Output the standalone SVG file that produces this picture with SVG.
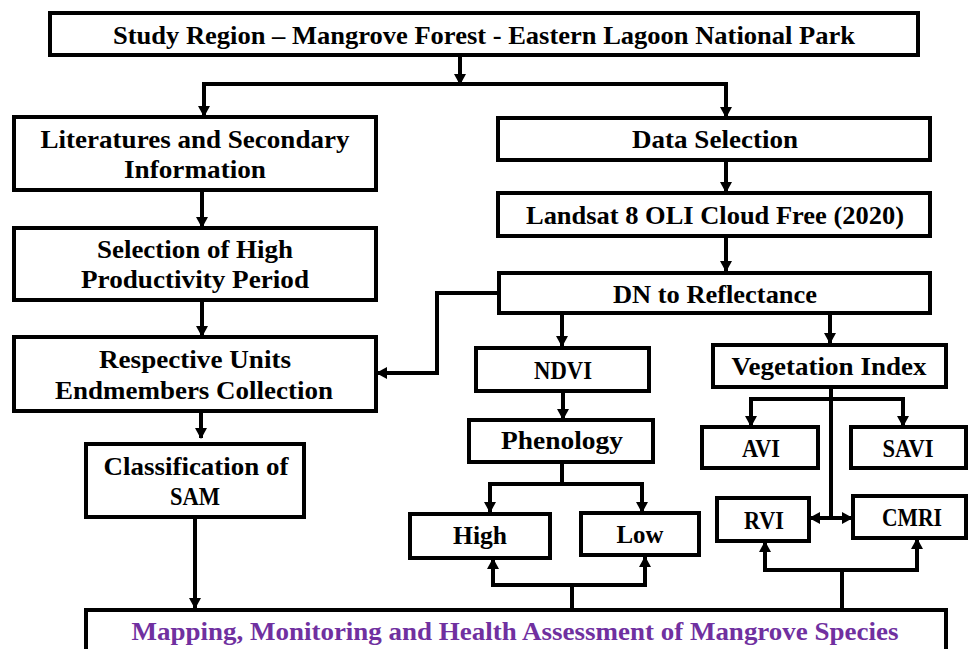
<svg xmlns="http://www.w3.org/2000/svg" width="968" height="649" viewBox="0 0 968 649">
<defs>
<style>
.box{fill:#fff;stroke:#000;stroke-width:4}
.t{font-family:"Liberation Serif","Times New Roman",serif;font-weight:bold;font-size:25px;fill:#000;text-anchor:middle}
.p{fill:#7030A0}
.c{fill:none;stroke:#000;stroke-width:4;stroke-linecap:butt;stroke-linejoin:miter}
.a{marker-end:url(#ah)}
.aa{marker-start:url(#ah);marker-end:url(#ah)}
</style>
<marker id="ah" markerUnits="userSpaceOnUse" markerWidth="12" markerHeight="12" viewBox="0 0 11 12" refX="10" refY="6" orient="auto-start-reverse">
<path d="M0,0 L11,6 L0,12 z" fill="#000"/>
</marker>
</defs>
<rect width="968" height="649" fill="#fff"/>

<g id="connectors">
<path class="c a" d="M460 55 V84"/>
<path class="c aa" d="M204 116 V84 H726 V117"/>
<path class="c a" d="M202 190 V227"/>
<path class="c a" d="M202 300 V336"/>
<path class="c a" d="M201 411 V438"/>
<path class="c a" d="M195 517 V608"/>
<path class="c a" d="M726 160 V192"/>
<path class="c a" d="M726 236 V271"/>
<path class="c a" d="M499 293 H437 V373 H377"/>
<path class="c a" d="M562 313 V346"/>
<path class="c a" d="M830 313 V343"/>
<path class="c a" d="M563 391 V419"/>
<path class="c" d="M562 462 V484"/>
<path class="c aa" d="M490 512 V484 H642 V512"/>
<path class="c" d="M572 609 V585"/>
<path class="c aa" d="M493 559 V585 H645 V557"/>
<path class="c aa" d="M751 426 V399 H903 V426"/>
<path class="c" d="M831 387 V518"/>
<path class="c aa" d="M810 518 H852"/>
<path class="c" d="M842 609 V570"/>
<path class="c aa" d="M765 542 V570 H917 V539"/>
</g>

<g id="study-region">
<rect class="box" x="50" y="13" width="868" height="42"/>
<text class="t" x="484" y="44" textLength="742" lengthAdjust="spacingAndGlyphs">Study Region – Mangrove Forest - Eastern Lagoon National Park</text>
</g>
<g id="literatures">
<rect class="box" x="14" y="117" width="362" height="73"/>
<text class="t" x="195" y="148" textLength="309" lengthAdjust="spacingAndGlyphs">Literatures and Secondary</text>
<text class="t" x="195" y="178" textLength="142" lengthAdjust="spacingAndGlyphs">Information</text>
</g>
<g id="selection-high">
<rect class="box" x="14" y="228" width="362" height="72"/>
<text class="t" x="195" y="258" textLength="196" lengthAdjust="spacingAndGlyphs">Selection of High</text>
<text class="t" x="195" y="288" textLength="228" lengthAdjust="spacingAndGlyphs">Productivity Period</text>
</g>
<g id="endmembers">
<rect class="box" x="14" y="337" width="362" height="74"/>
<text class="t" x="195" y="368" textLength="192" lengthAdjust="spacingAndGlyphs">Respective Units</text>
<text class="t" x="194" y="399" textLength="278" lengthAdjust="spacingAndGlyphs">Endmembers Collection</text>
</g>
<g id="classification">
<rect class="box" x="86" y="444" width="218" height="73"/>
<text class="t" x="196" y="475" textLength="185" lengthAdjust="spacingAndGlyphs">Classification of</text>
<text class="t" x="195" y="505" textLength="50" lengthAdjust="spacingAndGlyphs">SAM</text>
</g>
<g id="data-selection">
<rect class="box" x="498" y="118" width="432" height="42"/>
<text class="t" x="715" y="148" textLength="166" lengthAdjust="spacingAndGlyphs">Data Selection</text>
</g>
<g id="landsat">
<rect class="box" x="498" y="193" width="432" height="43"/>
<text class="t" x="715" y="224" textLength="378" lengthAdjust="spacingAndGlyphs">Landsat 8 OLI Cloud Free (2020)</text>
</g>
<g id="dn-reflectance">
<rect class="box" x="499" y="273" width="431" height="40"/>
<text class="t" x="715" y="303" textLength="204" lengthAdjust="spacingAndGlyphs">DN to Reflectance</text>
</g>
<g id="ndvi">
<rect class="box" x="476" y="348" width="173" height="43"/>
<text class="t" x="563" y="379" textLength="58" lengthAdjust="spacingAndGlyphs">NDVI</text>
</g>
<g id="phenology">
<rect class="box" x="469" y="420" width="184" height="42"/>
<text class="t" x="562" y="449" textLength="122" lengthAdjust="spacingAndGlyphs">Phenology</text>
</g>
<g id="high">
<rect class="box" x="410" y="514" width="140" height="44"/>
<text class="t" x="480" y="544" textLength="54" lengthAdjust="spacingAndGlyphs">High</text>
</g>
<g id="low">
<rect class="box" x="581" y="513" width="118" height="42"/>
<text class="t" x="640" y="543" textLength="47" lengthAdjust="spacingAndGlyphs">Low</text>
</g>
<g id="vegetation-index">
<rect class="box" x="713" y="345" width="233" height="42"/>
<text class="t" x="829" y="375" textLength="195" lengthAdjust="spacingAndGlyphs">Vegetation Index</text>
</g>
<g id="avi">
<rect class="box" x="702" y="427" width="116" height="41"/>
<text class="t" x="761" y="457" textLength="38" lengthAdjust="spacingAndGlyphs">AVI</text>
</g>
<g id="savi">
<rect class="box" x="851" y="427" width="115" height="41"/>
<text class="t" x="908" y="457" textLength="51" lengthAdjust="spacingAndGlyphs">SAVI</text>
</g>
<g id="rvi">
<rect class="box" x="717" y="498" width="92" height="43"/>
<text class="t" x="764" y="529" textLength="40" lengthAdjust="spacingAndGlyphs">RVI</text>
</g>
<g id="cmri">
<rect class="box" x="853" y="496" width="113" height="42"/>
<text class="t" x="912" y="526" textLength="60" lengthAdjust="spacingAndGlyphs">CMRI</text>
</g>
<g id="mapping">
<rect class="box" x="86" y="610" width="860" height="60"/>
<text class="t p" x="515" y="640" textLength="767" lengthAdjust="spacingAndGlyphs">Mapping, Monitoring and Health Assessment of Mangrove Species</text>
</g>
</svg>
